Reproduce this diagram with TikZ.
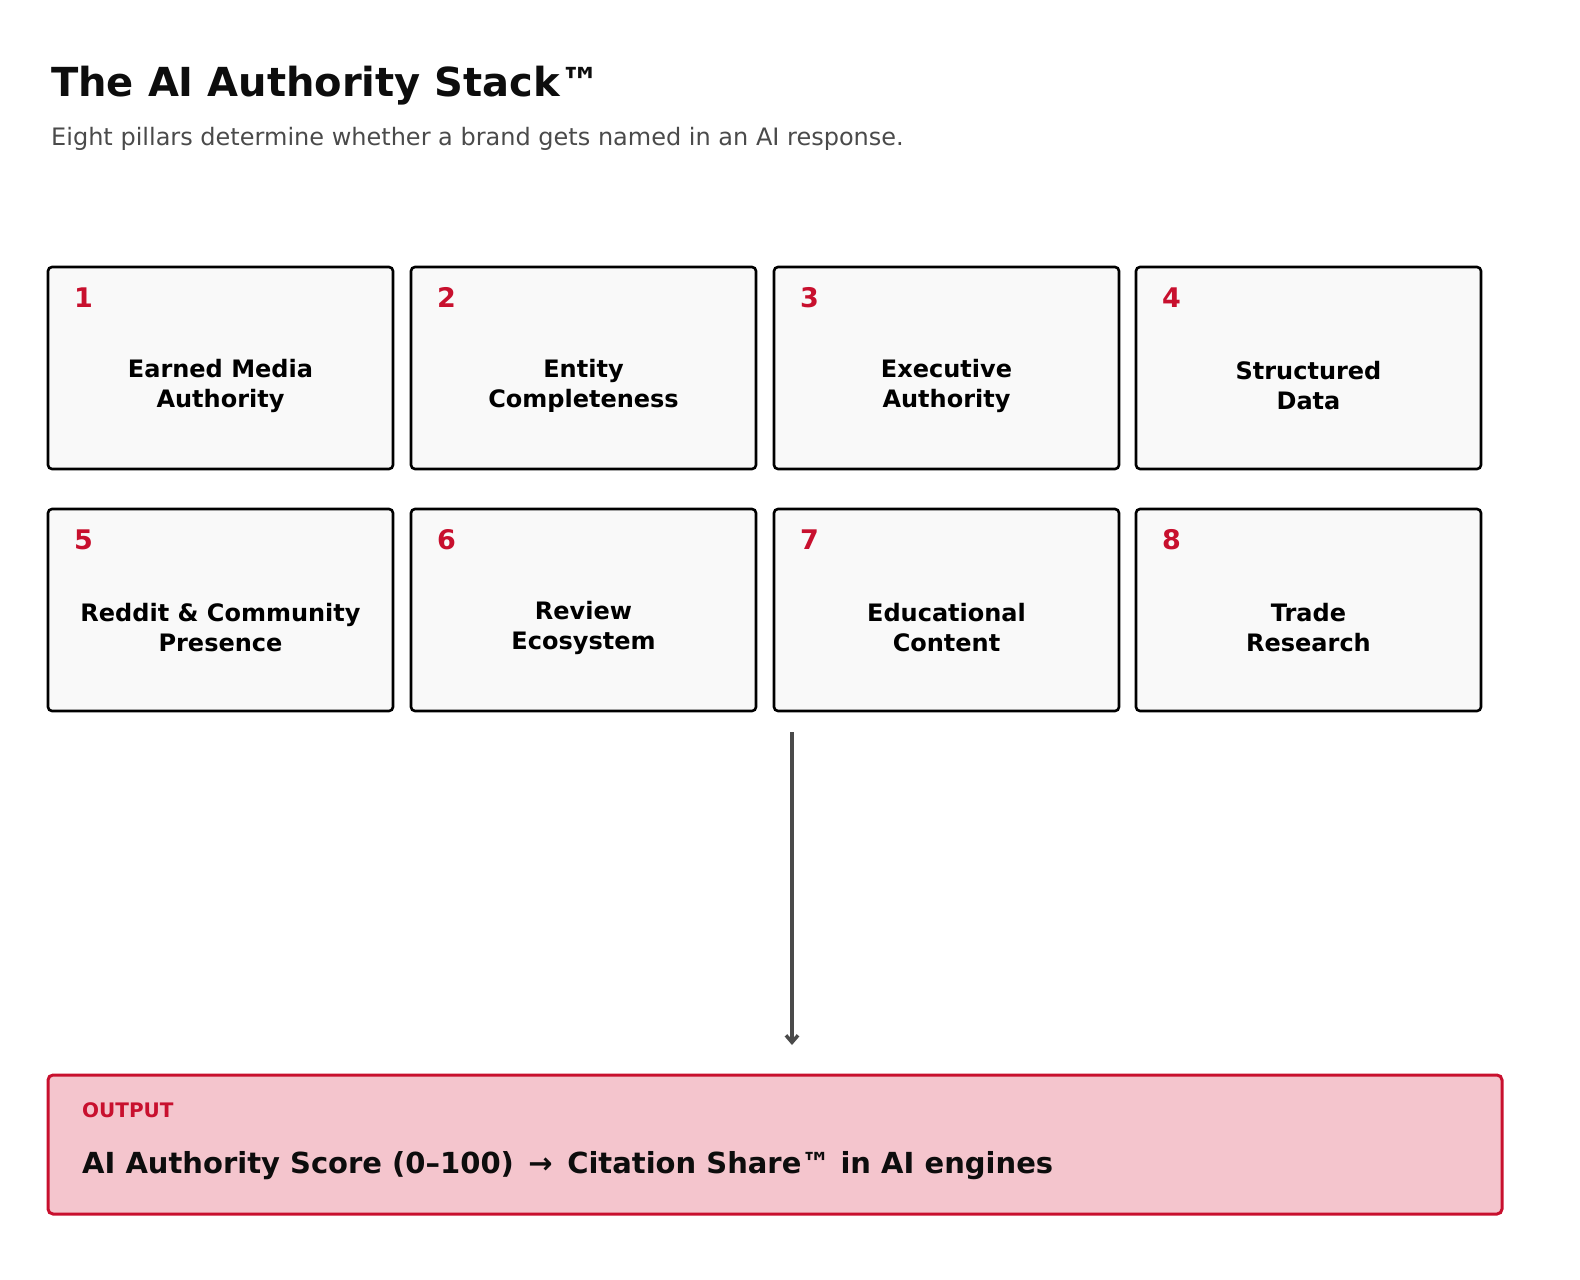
\documentclass[tikz,border=0pt]{standalone}
\usepackage{fontspec}
\setmainfont{DejaVu Sans}
\usetikzlibrary{arrows.meta}
\definecolor{crim}{HTML}{C8102E}
\definecolor{pinkf}{HTML}{F4C5CD}
\begin{document}
\begin{tikzpicture}[x=1pt,y=-1pt,
 pillar/.style={draw=black,line width=2.6pt,fill={rgb,255:red,249;green,249;blue,249},rounded corners=4pt},
 num/.style={anchor=base west,text=crim,font=\bfseries\fontsize{27}{30}\selectfont,inner sep=0},
 lab/.style={align=center,font=\bfseries\fontsize{24}{30}\selectfont,inner sep=0}]
\useasboundingbox (0,0) rectangle (1580,1280);
\node[anchor=base west,inner sep=0,font=\bfseries\fontsize{40}{44}\selectfont,text={rgb,255:red,13;green,13;blue,13}] (title) at (51,96) {The AI Authority Stack™};
\node[anchor=base west,inner sep=0,font=\fontsize{24}{28}\selectfont,text={rgb,255:red,74;green,74;blue,74}] (sub) at (51,145) {Eight pillars determine whether a brand gets named in an AI response.};
\foreach \i/\x/\y/\t in {1/48/267/{Earned Media\\Authority},2/411/267/{Entity\\Completeness},3/774/267/{Executive\\Authority},4/1136/267/{Structured\\Data},5/48/509/{Reddit \& Community\\Presence},6/411/509/{Review\\Ecosystem},7/774/509/{Educational\\Content},8/1136/509/{Trade\\Research}}{
 \draw[pillar] (\x,\y) rectangle ++(345,202);
 \node[num] (n\i) at (\x+26,\y+40) {\i};
 \node[lab] (p\i) at (\x+172.5,\y+119) {\t};
}
\draw[draw=crim,fill=pinkf,line width=3pt,rounded corners=5pt] (48,1075) rectangle (1502,1214);
\node[anchor=base west,inner sep=0,text=crim,font=\bfseries\fontsize{20}{24}\selectfont] (ol) at (82,1117) {OUTPUT};
\node[anchor=base west,inner sep=0,font=\bfseries\fontsize{29}{34}\selectfont,text={rgb,255:red,13;green,13;blue,13}] (out) at (82,1173) {AI Authority Score (0–100)\enspace→\enspace Citation Share™ in AI engines};
\coordinate (a1) at (792,732);
\coordinate (a2) at (792,1045);
\draw[-{Stealth[open,length=10pt,width=12pt,inset=0pt]},line width=3.5pt,draw={rgb,255:red,74;green,74;blue,74},-{Straight Barb[length=7pt,width=12pt]}] (a1) -- (a2);
\end{tikzpicture}
\end{document}
